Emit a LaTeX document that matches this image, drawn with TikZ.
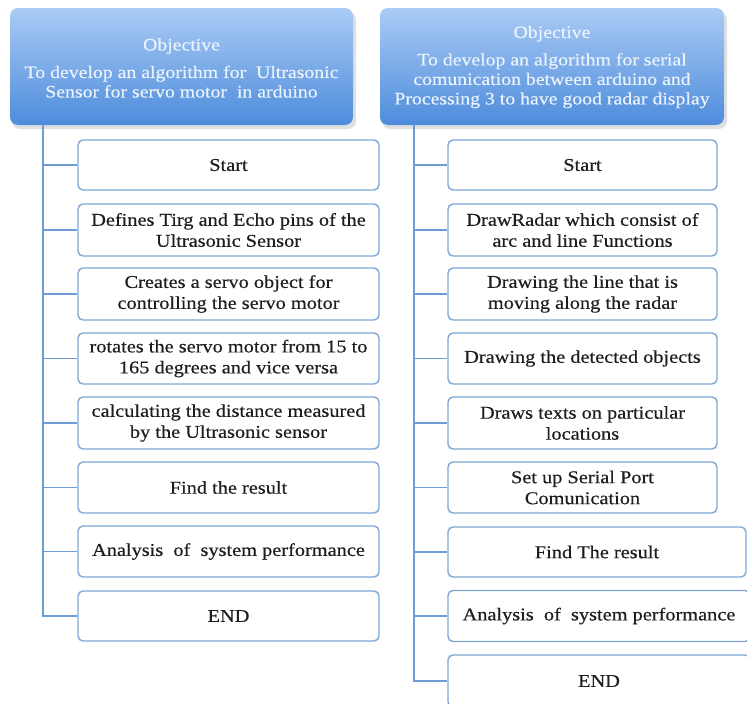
\documentclass[tikz,border=0pt]{standalone}
\usepackage{fontspec}
\setmainfont[FakeStretch=1.13,FakeBold=0.4]{Liberation Serif}
\usetikzlibrary{positioning}
\definecolor{hdrtop}{HTML}{AACBF5}
\definecolor{hdrbot}{HTML}{4D8CDB}
\definecolor{boxline}{HTML}{7FA6D6}
\definecolor{linkline}{HTML}{6F9CD2}
\definecolor{hdrtext}{HTML}{EAF2FC}
\definecolor{bodytext}{HTML}{1E1E1E}
\tikzset{
  header/.style={rounded corners=8pt, top color=hdrtop, bottom color=hdrbot, draw=none},
  hshadow/.style={rounded corners=8pt, fill=black, opacity=0.12},
  hlabel/.style={align=center, text=hdrtext, font=\fontsize{17.5}{19.5}\selectfont, inner sep=0pt},
  stepbox/.style={draw=boxline, line width=1.4pt, rounded corners=5pt, fill=white,
    align=center, text=bodytext, font=\fontsize{18}{21}\selectfont, inner sep=2pt},
  link/.style={draw=linkline, line width=1.4pt},
}
\begin{document}
\begin{tikzpicture}[x=1pt,y=-1pt]
\clip (0,0) rectangle (747,704);
\fill[white] (0,0) rectangle (747,704);

% header shadows and headers
\fill[hshadow] (12,12) rectangle (356,129);
\fill[hshadow] (382,12) rectangle (727,129);
\shade[header] (10,8) rectangle (353,125);
\shade[header] (380,8) rectangle (724,125);
\node[hlabel] (hL) at (181.5,68) {Objective\\[8pt]To develop an algorithm for\ \ Ultrasonic\\Sensor for servo motor\ \ in arduino};
\node[hlabel] (hR) at (552,67) {Objective\\[8pt]To develop an algorithm for serial\\comunication between arduino and\\Processing 3 to have good radar display};

% left column of steps
\node[stepbox, minimum width=301pt, minimum height=50pt] (l1) at (228.5,165) {Start};
\node[stepbox, minimum width=301pt, minimum height=52pt] (l2) at (228.5,230) {Defines Tirg and Echo pins of the\\Ultrasonic Sensor};
\node[stepbox, minimum width=301pt, minimum height=52pt] (l3) at (228.5,294) {Creates a servo object for\\controlling the servo motor};
\node[stepbox, minimum width=301pt, minimum height=51pt] (l4) at (228.5,358.5) {rotates the servo motor from 15 to\\165 degrees and vice versa};
\node[stepbox, minimum width=301pt, minimum height=52pt] (l5) at (228.5,423) {calculating the distance measured\\by the Ultrasonic sensor};
\node[stepbox, minimum width=301pt, minimum height=51pt] (l6) at (228.5,487.5) {Find the result};
\node[stepbox, minimum width=301pt, minimum height=51pt] (l7) at (228.5,551.5) {Analysis\ \ of\ \ system performance};
\node[stepbox, minimum width=301pt, minimum height=50pt] (l8) at (228.5,616) {END};

% right column of steps
\node[stepbox, minimum width=269pt, minimum height=50pt] (r1) at (582.5,165) {Start};
\node[stepbox, minimum width=269pt, minimum height=52pt] (r2) at (582.5,230) {DrawRadar which consist of\\arc and line Functions};
\node[stepbox, minimum width=269pt, minimum height=52pt] (r3) at (582.5,294) {Drawing the line that is\\moving along the radar};
\node[stepbox, minimum width=269pt, minimum height=51pt] (r4) at (582.5,358.5) {Drawing the detected objects};
\node[stepbox, minimum width=269pt, minimum height=52pt] (r5) at (582.5,423) {Draws texts on particular\\locations};
\node[stepbox, minimum width=269pt, minimum height=51pt] (r6) at (582.5,487.5) {Set up Serial Port\\Comunication};
\node[stepbox, minimum width=298pt, minimum height=50pt] (r7) at (597,552) {Find The result};
\node[stepbox, minimum width=302pt, minimum height=51pt] (r8) at (599,616) {Analysis\ \ of\ \ system performance};
\node[stepbox, minimum width=302pt, minimum height=52pt] (r9) at (599,681) {END};

% trunks and branches
\coordinate (tL) at (43,125);
\coordinate (tR) at (414,125);
\draw[link] (tL) |- (l8.west);
\foreach \n in {l1,l2,l3,l4,l5,l6,l7} \draw[link] (tL |- \n.west) -- (\n.west);
\draw[link] (tR) |- (r9.west);
\foreach \n in {r1,r2,r3,r4,r5,r6,r7,r8} \draw[link] (tR |- \n.west) -- (\n.west);
\end{tikzpicture}
\end{document}
